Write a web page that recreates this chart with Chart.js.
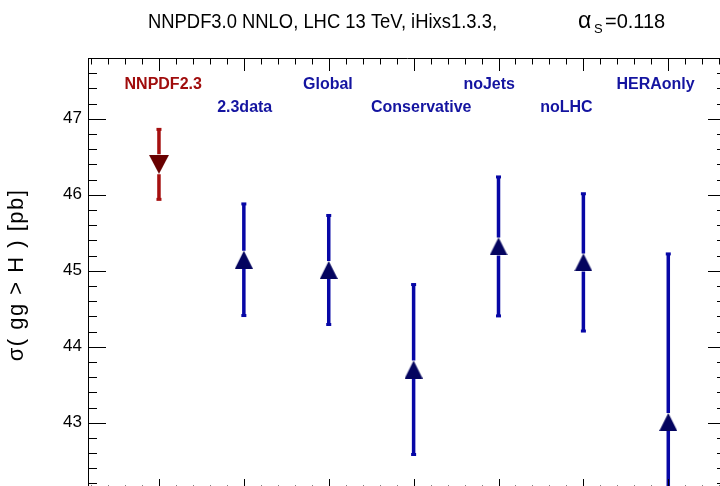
<!DOCTYPE html>
<html>
<head>
<meta charset="utf-8">
<script src="https://cdn.jsdelivr.net/npm/chart.js@4.4.0/dist/chart.umd.min.js"></script>
<style>
html, body { margin: 0; padding: 0; background: #fff; overflow: hidden; }
#wrap { width: 720px; height: 486px; overflow: hidden; position: relative; }
#chart { position: absolute; left: 0; top: 0; }
</style>
</head>
<body>
<div id="wrap"><canvas id="chart" width="740" height="510"></canvas></div>
<script>
// PDF fits, one per column
const fits = ['NNPDF2.3', '2.3data', 'Global', 'Conservative', 'noJets', 'noLHC', 'HERAonly'];
const xPos = [1, 2, 3, 4, 5, 6, 7];
// cross section and symmetric uncertainty [pb]
const sigma = [46.40, 45.145, 45.01, 43.70, 45.32, 45.11, 43.01];
const sigmaErr = [0.467, 0.741, 0.724, 1.125, 0.921, 0.91, 2.218];
const yTicks = [43, 44, 45, 46, 47];

const titleMain = 'NNPDF3.0 NNLO, LHC 13 TeV, iHixs1.3.3,';
const titleAlpha = 'α';
const titleSub = 'S';
const titleValue = '=0.118';
const yTitle = 'σ( gg > H ) [pb]';

// label placement (offset in x units, and which row)
const labelDx = [0.05, 0.01, -0.01, 0.09, -0.11, -0.2, -0.15];
const labelRow = [0, 1, 0, 1, 0, 1, 0];

const FONT = '"Liberation Sans", Arial, Helvetica, sans-serif';
const RED_BAR = '#a50f0f', RED_MARK = '#680000', RED_TEXT = '#a00d0d';
const BLUE_BAR = '#0707a6', BLUE_MARK = '#04045f', BLUE_TEXT = '#1414a0';

function triangle(w, h, color, down) {
    const c = document.createElement('canvas');
    c.width = w;
    c.height = h;
    const g = c.getContext('2d');
    g.fillStyle = color;
    g.beginPath();
    if (down) {
        g.moveTo(0, 0); g.lineTo(w, 0); g.lineTo(w / 2, h);
    } else {
        g.moveTo(w / 2, 0); g.lineTo(w, h); g.lineTo(0, h);
    }
    g.closePath();
    g.fill();
    return c;
}

const upMarker = triangle(18, 18, BLUE_MARK, false);
const downMarker = triangle(20, 19, RED_MARK, true);

// error bars, drawn from the scales before the markers
const errorBars = {
    id: 'errorBars',
    beforeDatasetsDraw(chart) {
        const { ctx, chartArea: a, scales: { x, y } } = chart;
        ctx.save();
        ctx.beginPath();
        ctx.rect(a.left, a.top, a.right - a.left, a.bottom - a.top);
        ctx.clip();
        sigma.forEach((v, i) => {
            const px = x.getPixelForValue(xPos[i]);
            const pc = y.getPixelForValue(v);
            const pHi = y.getPixelForValue(v + sigmaErr[i]);
            const pLo = y.getPixelForValue(v - sigmaErr[i]);
            const half = i === 0 ? 10 : 9;
            const col = i === 0 ? RED_BAR : BLUE_BAR;
            ctx.strokeStyle = col;
            ctx.lineWidth = 3.5;
            ctx.beginPath();
            ctx.moveTo(px, pHi); ctx.lineTo(px, pc - half);
            ctx.moveTo(px, pc + half); ctx.lineTo(px, pLo);
            ctx.stroke();
            ctx.fillStyle = col;
            ctx.fillRect(px - 2.5, pHi - 1, 5, 3);
            ctx.fillRect(px - 2.5, pLo - 2, 5, 3);
        });
        ctx.restore();
    }
};

// ROOT style frame with inward ticks, labels and titles
const frame = {
    id: 'frame',
    afterDraw(chart) {
        const { ctx, chartArea: a, scales: { x, y } } = chart;
        ctx.save();
        ctx.strokeStyle = '#000';
        ctx.lineWidth = 1;
        ctx.beginPath();
        ctx.rect(Math.round(a.left) + 0.5, Math.round(a.top) + 0.5,
            Math.round(a.right - a.left), Math.round(a.bottom - a.top));
        ctx.stroke();

        ctx.beginPath();
        for (let k = Math.ceil(y.min * 5); k <= Math.floor(y.max * 5); k++) {
            const py = Math.round(y.getPixelForValue(k / 5)) + 0.5;
            const len = k % 5 === 0 ? 18 : 9;
            ctx.moveTo(a.left, py); ctx.lineTo(a.left + len, py);
            ctx.moveTo(a.right, py); ctx.lineTo(a.right - len, py);
        }
        for (let k = Math.ceil(x.min * 5); k <= Math.floor(x.max * 5); k++) {
            const px = Math.round(x.getPixelForValue(k / 5)) + 0.5;
            const len = k % 5 === 0 ? 13 : 6.5;
            ctx.moveTo(px, a.top); ctx.lineTo(px, a.top + len);
            ctx.moveTo(px, a.bottom); ctx.lineTo(px, a.bottom - len);
        }
        ctx.stroke();

        // fit labels
        ctx.font = 'bold 16px ' + FONT;
        ctx.textAlign = 'center';
        ctx.textBaseline = 'alphabetic';
        fits.forEach((name, i) => {
            ctx.fillStyle = i === 0 ? RED_TEXT : BLUE_TEXT;
            const px = x.getPixelForValue(xPos[i] + labelDx[i]);
            ctx.fillText(name, px, a.top + (labelRow[i] ? 54 : 31));
        });

        // title
        ctx.fillStyle = '#000';
        ctx.textAlign = 'left';
        ctx.font = '20px ' + FONT;
        ctx.fillText(titleMain, 148, 28, 349);
        ctx.fillText(titleValue, 605, 28);
        ctx.font = '23px ' + FONT;
        ctx.fillText(titleAlpha, 578, 28);
        ctx.font = '13px ' + FONT;
        ctx.fillText(titleSub, 594, 33);

        // y axis title
        ctx.translate(17, 275);
        ctx.rotate(-Math.PI / 2);
        ctx.textAlign = 'center';
        ctx.textBaseline = 'middle';
        ctx.font = '22px ' + FONT;
        ctx.letterSpacing = '1.5px';
        ctx.fillText(yTitle, 0, 0);
        ctx.restore();
    }
};

const ctx = document.getElementById('chart');
new Chart(ctx, {
    type: 'scatter',
    data: {
        datasets: [
            {
                label: fits[0],
                data: [{ x: xPos[0], y: sigma[0] }],
                pointStyle: downMarker,
                pointRadius: 10
            },
            {
                label: 'NNPDF3.0',
                data: xPos.slice(1).map((xv, i) => ({ x: xv, y: sigma[i + 1] })),
                pointStyle: upMarker,
                pointRadius: 9
            }
        ]
    },
    options: {
        responsive: false,
        animation: false,
        devicePixelRatio: 1,
        layout: { padding: { top: 58, right: 14, bottom: 18, left: 0 } },
        plugins: {
            legend: { display: false },
            tooltip: { enabled: false },
            title: { display: false }
        },
        scales: {
            x: {
                type: 'linear',
                display: false,
                min: 0.164,
                max: 7.68
            },
            y: {
                type: 'linear',
                position: 'left',
                min: 42.088,
                max: 47.80,
                afterFit: s => { s.width = 88; },
                afterBuildTicks: s => { s.ticks = yTicks.map(v => ({ value: v })); },
                grid: { display: false, drawTicks: false },
                border: { display: false },
                ticks: {
                    includeBounds: false,
                    stepSize: 1,
                    padding: 6,
                    color: '#000',
                    font: { family: FONT, size: 17 }
                }
            }
        }
    },
    plugins: [errorBars, frame]
});
</script>
</body>
</html>
